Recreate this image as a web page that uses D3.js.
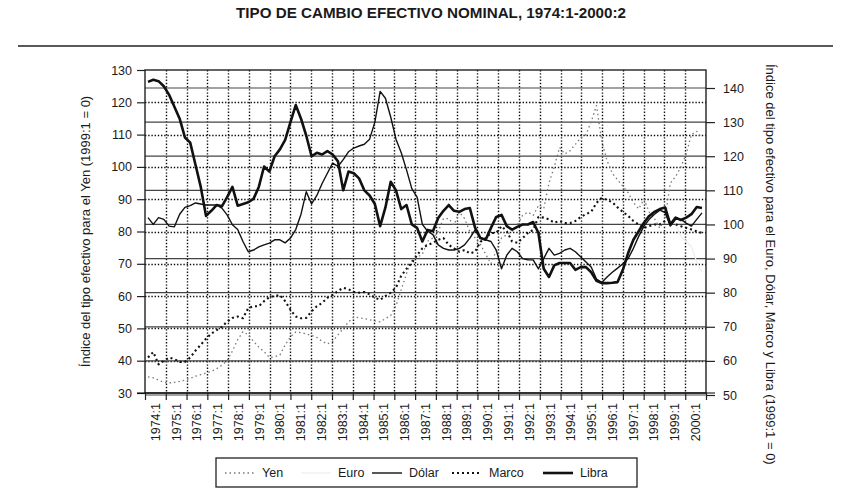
<!DOCTYPE html>
<html>
<head>
<meta charset="utf-8">
<script src="https://cdn.jsdelivr.net/npm/d3@7"></script>
<style>
  body { margin: 0; background: #fff; }
  text { font-family: "Liberation Sans", Arial, Helvetica, sans-serif; fill: #1a1a1a; }
</style>
</head>
<body>
<script>
const WIDTH = 855
const HEIGHT = 504

// Etiquetas del eje X (un tramo por año)
const yearLabels = ["1974:1", "1975:1", "1976:1", "1977:1", "1978:1", "1979:1", "1980:1",
  "1981:1", "1982:1", "1983:1", "1984:1", "1985:1", "1986:1", "1987:1", "1988:1", "1989:1",
  "1990:1", "1991:1", "1992:1", "1993:1", "1994:1", "1995:1", "1996:1", "1997:1", "1998:1",
  "1999:1", "2000:1"]

// Trimestres 1974:1 - 2000:2
const quarters = yearLabels
  .flatMap(l => ["1", "2", "3", "4"].map(q => l.slice(0, 4) + ":" + q))
  .slice(0, 106)

const leftTicks = [30, 40, 50, 60, 70, 80, 90, 100, 110, 120, 130]
const rightTicks = [50, 60, 70, 80, 90, 100, 110, 120, 130, 140]

// Yen (eje izquierdo)
const yen = [
  35, 34.7, 34, 33.3,   33.1, 33.3, 33.6, 34,   34.5, 35.2, 35.7, 36.2,   36.7, 37.5, 38.6, 40,
  43, 46.5, 49, 48,     46, 44.2, 42.8, 41,     41.2, 41.8, 44.9, 47.4,   48.9, 48.7, 48.3, 47.8,
  47.2, 46, 45.2, 46,   48, 50, 52, 53.5,       53.3, 53, 52.7, 52.3,     52, 53, 54, 57,
  62, 67, 71, 72,       73, 77, 78, 80,         84, 84, 82, 86,           84, 80, 78, 76,
  73, 70, 74, 78,       79, 80, 82, 85,         86, 85, 88, 87,           95, 100, 106, 104,
  105, 107, 109, 110,   114, 119, 108, 102,     98, 96, 94, 92,           89, 87, 90, 86,
  84, 81, 84, 95,       97, 100, 104, 110,      111, 109
]

// Dólar (eje derecho)
const dolar = [
  102, 100, 102, 101.5,      99.5, 99.3, 103, 105,       105.5, 106.3, 106, 105.7,   105.7, 105.7, 104.8, 102.8,
  99.9, 98.5, 95, 92,        92.5, 93.4, 94, 94.5,       95.5, 95.5, 94.6, 96,       98.5, 103, 109.6, 106,
  108.5, 112, 115, 118,      117, 119, 121.3, 122.4,     123, 123.5, 125, 130,       139, 137, 131.5, 125,
  121, 116, 110.5, 108,      100, 98, 97, 94,            93, 92.5, 92.5, 93,         94, 96, 98.4, 96,
  95.5, 95, 92.5, 87,        91, 93, 92, 90,             89.6, 89.6, 87, 90,         93, 91, 91.5, 92.5,
  93, 92, 90.5, 89,          87.5, 84, 83, 84.6,         86, 87.2, 88.5, 90,         93, 96.5, 99.5, 101.5,
  103, 104.2, 103.5, 99.5,   101.5, 101.5, 100.4, 99.5,  101.5, 103.4
]

// Marco (eje derecho)
const marco = [
  61, 62.6, 59, 60,         61, 60.5, 59.7, 59.7,     61, 63, 64.7, 66.5,       68, 69, 70, 71.5,
  72.6, 73, 72.5, 75.5,     76, 76, 77.5, 78.7,       79, 79.3, 77.5, 75,       73, 72.5, 72.6, 74.5,
  76, 77, 78.5, 79.3,       80.5, 81.4, 81, 80.2,     80, 80.2, 79.5, 78.5,     77.9, 79, 80, 81.5,
  85, 87, 88.7, 91,         93, 94, 94.6, 95.5,       96, 94, 93, 92,           92.5, 91.5, 92, 94.9,
  96, 97.5, 97.5, 99.5,     98, 95, 94.6, 96,         97.5, 98.4, 102.2, 102,   101.5, 100.5, 101, 100.4,
  100.4, 101, 102.2, 103,   103.7, 106.3, 107.8, 107.2, 106.5, 105, 103.7, 102.5, 101, 100, 99, 99.5,
  100, 100, 101, 101.5,     100, 99.5, 99, 98.5,      98, 97.5
]

// Libra (eje derecho)
const libra = [
  141.8, 142.4, 142, 140.5,  138, 134.5, 131, 125.5,   124, 117.5, 111, 102.5,   104, 105.7, 105.3, 108,
  111, 105.5, 106, 106.5,    107.5, 111, 117, 115.5,   120, 122, 124.8, 130,     135, 131, 126, 120,
  121, 120.5, 121.5, 120.5,  118.5, 110, 115.5, 115,   113.5, 110, 108.5, 106,   99.5, 105, 112.5, 110,
  104.5, 105.7, 100, 99,     95, 98.4, 98, 101.9,      104, 105.7, 104, 103.7,   104.5, 104.8, 99, 96,
  95.5, 99, 102.2, 102.8,    99.5, 98.5, 99.3, 100,    100, 100.7, 97.5, 87,     84.6, 88, 88.7, 88.7,
  88.7, 86.7, 87.5, 87.5,    86, 83.5, 82.8, 82.8,     82.9, 83.1, 86.7, 91.6,   95.5, 98, 100.5, 102.5,
  103.7, 104.5, 105, 100,    102, 101.3, 102, 103,     105.1, 104.8
]

// Euro (desde 1999:1, eje derecho)
const euroStart = "1999:1"
const euro = [100, 96.5, 95, 93.5, 89, 86]

const svg = d3.select("body").append("svg")
  .attr("width", WIDTH)
  .attr("height", HEIGHT)

// Escalas
const xYear = d3.scaleLinear().domain([1974, 2001]).range([145, 706])
const xq = d3.scaleLinear().domain([0, quarters.length - 1]).range([148, 702])
const yL = d3.scaleLinear().domain([30, 130]).range([393, 70])
const yR = d3.scaleLinear().domain([50, 140]).range([395, 88])

const years = yearLabels.map(l => +l.slice(0, 4))
const x0 = xYear.range()[0], x1 = xYear.range()[1]
const crisp = v => Math.round(v) + 0.5

// Título
svg.append("text")
  .attr("x", 431).attr("y", 18)
  .attr("text-anchor", "middle")
  .attr("font-size", 14.5).attr("font-weight", "bold")
  .attr("textLength", 390).attr("lengthAdjust", "spacingAndGlyphs")
  .text("TIPO DE CAMBIO EFECTIVO NOMINAL, 1974:1-2000:2")

svg.append("line")
  .attr("x1", 18).attr("x2", 833).attr("y1", 46).attr("y2", 46)
  .attr("stroke", "#222").attr("stroke-width", 1.6)

// Rejilla punteada (años y eje izquierdo) y continua (eje derecho)
const grid = svg.append("g")

grid.selectAll("line.vgrid")
  .data(years.slice(1))
  .enter().append("line")
  .attr("class", "vgrid")
  .attr("x1", d => crisp(xYear(d))).attr("x2", d => crisp(xYear(d)))
  .attr("y1", yL(130)).attr("y2", yL(30))

grid.selectAll("line.lgrid")
  .data(leftTicks.slice(1, -1))
  .enter().append("line")
  .attr("class", "lgrid")
  .attr("x1", x0).attr("x2", x1)
  .attr("y1", d => crisp(yL(d))).attr("y2", d => crisp(yL(d)))

grid.selectAll("line.vgrid, line.lgrid")
  .attr("stroke", "#111")
  .attr("stroke-width", 1.4)
  .attr("stroke-dasharray", "1.4,1.8")

grid.selectAll("line.rgrid")
  .data(rightTicks)
  .enter().append("line")
  .attr("class", "rgrid")
  .attr("x1", x0).attr("x2", x1)
  .attr("y1", d => yR(d)).attr("y2", d => yR(d))
  .attr("stroke", "#444").attr("stroke-width", 1.2)

// Marco del gráfico
svg.append("rect")
  .attr("x", x0).attr("y", yL(130))
  .attr("width", x1 - x0).attr("height", yL(30) - yL(130))
  .attr("fill", "none").attr("stroke", "#222").attr("stroke-width", 1.4)

// Ejes
const axisL = svg.append("g")
  .attr("transform", `translate(${x0},0)`)
  .call(d3.axisLeft(yL).tickValues(leftTicks).tickSize(8).tickPadding(5))
axisL.select(".domain").remove()

const axisR = svg.append("g")
  .attr("transform", `translate(${x1},0)`)
  .call(d3.axisRight(yR).tickValues(rightTicks).tickSize(9).tickPadding(8))
axisR.select(".domain").remove()

const axisB = svg.append("g")
  .attr("transform", `translate(0,${yL(30)})`)
  .call(d3.axisBottom(xYear).tickValues(years.concat([2001])).tickSize(7).tickFormat(""))
axisB.select(".domain").attr("d", `M${x0 - 8},0H${x1 + 9}`)

svg.selectAll(".tick line").attr("stroke", "#222").attr("stroke-width", 1.2)
svg.selectAll(".tick text").attr("font-size", 12.5).attr("fill", "#1a1a1a")
  .attr("font-family", '"Liberation Sans", Arial, sans-serif')

svg.append("g").selectAll("text")
  .data(yearLabels)
  .enter().append("text")
  .attr("transform", (d, i) => `translate(${xYear(years[i] + 0.5)},403) rotate(-90)`)
  .attr("text-anchor", "end")
  .attr("dy", "0.35em")
  .attr("font-size", 12.5)
  .text(d => d)

// Títulos de ejes
svg.append("text")
  .attr("transform", `translate(85,${(yL(30) + yL(130)) / 2}) rotate(-90)`)
  .attr("text-anchor", "middle").attr("dy", "0.35em")
  .attr("font-size", 13)
  .text("Índice del tipo efectivo para el Yen (1999:1 = 0)")

svg.append("text")
  .attr("transform", "translate(771,64) rotate(90)")
  .attr("text-anchor", "start").attr("dy", "0.35em")
  .attr("font-size", 13)
  .text("Índice del tipo efectivo para el Euro, Dólar, Marco y Libra (1999:1 = 0)")

// Series
const styles = {
  yen:   { stroke: "#777", width: 1.3, dash: "1.5,3" },
  euro:  { stroke: "#eeeeee", width: 1.3, dash: null },
  dolar: { stroke: "#111", width: 1.4, dash: null },
  marco: { stroke: "#111", width: 2.1, dash: "2,3" },
  libra: { stroke: "#111", width: 2.6, dash: null }
}

const lineL = d3.line().x(d => xq(d.i)).y(d => yL(d.v))
const lineR = d3.line().x(d => xq(d.i)).y(d => yR(d.v))
const toPts = (arr, start) => arr.map((v, k) => ({ i: start + k, v: v }))

const series = [
  { key: "yen", pts: toPts(yen, 0), line: lineL },
  { key: "euro", pts: toPts(euro, quarters.indexOf(euroStart)), line: lineR },
  { key: "marco", pts: toPts(marco, 0), line: lineR },
  { key: "dolar", pts: toPts(dolar, 0), line: lineR },
  { key: "libra", pts: toPts(libra, 0), line: lineR }
]

svg.append("g").selectAll("path")
  .data(series)
  .enter().append("path")
  .attr("d", d => d.line(d.pts))
  .attr("fill", "none")
  .attr("stroke", d => styles[d.key].stroke)
  .attr("stroke-width", d => styles[d.key].width)
  .attr("stroke-dasharray", d => styles[d.key].dash)
  .attr("stroke-linejoin", "round")

// Leyenda
const legend = svg.append("g")
legend.append("rect")
  .attr("x", 216).attr("y", 458).attr("width", 421).attr("height", 29)
  .attr("fill", "none").attr("stroke", "#222").attr("stroke-width", 1.3)

const legendItems = [
  { key: "yen", label: "Yen", x: 225 },
  { key: "euro", label: "Euro", x: 301 },
  { key: "dolar", label: "Dólar", x: 372 },
  { key: "marco", label: "Marco", x: 452 },
  { key: "libra", label: "Libra", x: 543 }
]

const li = legend.selectAll("g.li")
  .data(legendItems)
  .enter().append("g")
  .attr("class", "li")

li.append("line")
  .attr("x1", d => d.x).attr("x2", d => d.x + 30)
  .attr("y1", 473).attr("y2", 473)
  .attr("stroke", d => styles[d.key].stroke)
  .attr("stroke-width", d => styles[d.key].width)
  .attr("stroke-dasharray", d => styles[d.key].dash)

li.append("text")
  .attr("x", d => d.x + 37).attr("y", 473)
  .attr("dy", "0.35em")
  .attr("font-size", 12.5)
  .text(d => d.label)
</script>
</body>
</html>
